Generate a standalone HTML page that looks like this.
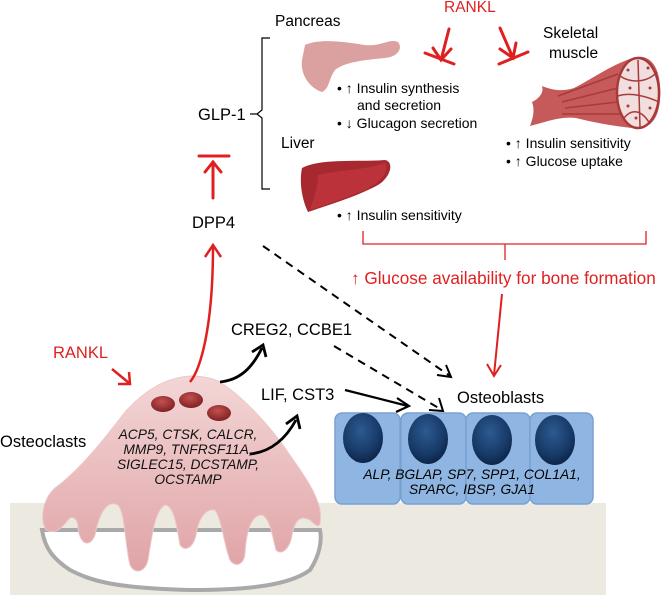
<!DOCTYPE html>
<html><head><meta charset="utf-8"><style>
html,body{margin:0;padding:0;background:#fff}
svg{display:block}
text{font-family:"Liberation Sans",sans-serif}
</style></head><body>
<svg width="662" height="598" viewBox="0 0 662 598" xmlns="http://www.w3.org/2000/svg">
<defs>
<radialGradient id="nuc" cx="45%" cy="35%" r="65%"><stop offset="0" stop-color="#2c5a90"/><stop offset="0.7" stop-color="#173a68"/><stop offset="1" stop-color="#0e2548"/></radialGradient>
<radialGradient id="red" cx="45%" cy="35%" r="70%"><stop offset="0" stop-color="#c45050"/><stop offset="1" stop-color="#7a1e1e"/></radialGradient>
<linearGradient id="pink" x1="0" y1="0" x2="0" y2="1"><stop offset="0" stop-color="#f3d6d6"/><stop offset="1" stop-color="#e0a3a6"/></linearGradient>
</defs>

<rect x="10" y="503" width="596" height="92" fill="#ece9e0"/>

<text x="444" y="12" font-size="15.5" fill="#e02020">RANKL</text>
<text x="275" y="26" font-size="15.5">Pancreas</text>
<text x="543" y="38" font-size="15.5">Skeletal</text>
<text x="549" y="58" font-size="15.5">muscle</text>

<path d="M270,38 L262,38 L262,110 L257,114 L262,118 L262,189 L270,189" fill="none" stroke="#000" stroke-width="1.2"/>
<line x1="250" y1="114" x2="257" y2="114" stroke="#000" stroke-width="1.2"/>
<text x="198" y="120" font-size="16.5">GLP-1</text>

<path d="M305,45 C320,38 345,42 365,45 C380,47 390,38 398,42 C403,48 398,57 385,58 C365,60 345,62 335,70 C328,80 330,88 322,92 C310,88 300,75 302,60 Z" fill="#dba0a0"/>
<g font-size="14">
<text x="337" y="93">• ↑ Insulin synthesis</text>
<text x="357" y="110">and secretion</text>
<text x="337" y="128">• ↓ Glucagon secretion</text>
<text x="281" y="148" font-size="15.5">Liver</text>
<text x="337" y="220">• ↑ Insulin sensitivity</text>
<text x="506" y="148">• ↑ Insulin sensitivity</text>
<text x="506" y="166">• ↑ Glucose uptake</text>
</g>
<path d="M302,168 C320,158 360,162 385,160 C395,162 390,178 378,185 C360,195 335,203 308,212 C302,200 299,182 302,168 Z" fill="#a82830"/>
<path d="M318,175 C340,170 365,170 385,163 C390,172 380,182 365,190 C345,198 325,205 310,210 C315,195 318,185 318,175 Z" fill="#c0353e" opacity="0.8"/>

<!-- muscle -->
<path d="M532,102 C540,98 544,92 542,86 C552,90 562,92 574,88 C594,78 612,64 636,57 C655,54 662,75 660,100 C658,122 648,130 632,128 C612,126 592,122 576,118 C560,116 546,122 530,126 C533,118 535,110 532,102 Z" fill="#c65a5a"/>
<ellipse cx="638" cy="93" rx="21" ry="35" fill="#f2dede" stroke="#a83a3a" stroke-width="2.5"/>
<g stroke="#a83a3a" stroke-width="1.5" fill="none">
<path d="M620,76 C632,84 648,82 657,72 M618,96 C630,92 646,96 659,102 M624,118 C632,108 642,110 650,124 M638,60 L640,127"/>
<path d="M558,96 L618,74 M562,102 L618,88 M565,108 L618,102 M562,114 L620,114"/>
</g>
<g fill="#a83a3a">
<circle cx="628" cy="70" r="1.5"/><circle cx="648" cy="68" r="1.5"/><circle cx="630" cy="88" r="1.5"/><circle cx="650" cy="88" r="1.5"/><circle cx="628" cy="106" r="1.5"/><circle cx="650" cy="108" r="1.5"/><circle cx="636" cy="118" r="1.5"/>
</g>

<g stroke="#e02020" stroke-width="3" fill="none" stroke-linecap="round">
<line x1="449" y1="29" x2="441" y2="60"/>
<path d="M433,48 L441,60 L451,49"/>
<line x1="425" y1="53" x2="454" y2="64"/>
<line x1="500" y1="28" x2="513" y2="58"/>
<path d="M500,49 L513,58 L516,43"/>
<line x1="499" y1="64" x2="528" y2="52"/>
<line x1="199" y1="156" x2="229" y2="156"/>
<line x1="213" y1="198" x2="213" y2="162"/>
<path d="M205,172 L213,162 L221,172"/>
</g>
<text x="192" y="228" font-size="16.5">DPP4</text>

<path d="M363,231 L363,244 L646,244 L646,231 M505,244 L505,260" fill="none" stroke="#e02020" stroke-width="1.3"/>
<text x="351" y="284" font-size="17.2" fill="#e02020">↑ Glucose availability for bone formation</text>
<line x1="502" y1="294" x2="494" y2="375" stroke="#e02020" stroke-width="2"/>
<path d="M487,364 L494,376 L501,365" fill="none" stroke="#e02020" stroke-width="2"/>

<g stroke="#000" stroke-width="2" stroke-dasharray="8,6" fill="none">
<line x1="263" y1="246" x2="450" y2="376"/>
<line x1="334" y1="346" x2="442" y2="410"/>
</g>
<path d="M437,375 L451,377 L446,365" fill="none" stroke="#000" stroke-width="2"/>
<path d="M429,410 L443,411 L439,398" fill="none" stroke="#000" stroke-width="2"/>

<text x="231" y="335" font-size="16.5">CREG2, CCBE1</text>
<text x="261" y="400" font-size="16.5">LIF, CST3</text>
<line x1="345" y1="390" x2="408" y2="406" stroke="#000" stroke-width="2.2"/>
<path d="M397,398 L409,406 L396,412" fill="none" stroke="#000" stroke-width="2.2"/>
<text x="457" y="403" font-size="16.5">Osteoblasts</text>

<g fill="#8fb6e2" stroke="#7aa0cf" stroke-width="1.5">
<rect x="335" y="413" width="65" height="91" rx="7"/>
<rect x="401" y="413" width="65" height="91" rx="7"/>
<rect x="466" y="413" width="64" height="91" rx="7"/>
<rect x="530" y="413" width="63" height="91" rx="7"/>
</g>
<g fill="url(#nuc)">
<ellipse cx="363" cy="438" rx="20" ry="25"/>
<ellipse cx="428" cy="439" rx="20" ry="25"/>
<ellipse cx="492" cy="440" rx="20" ry="25"/>
<ellipse cx="555" cy="440" rx="20" ry="25"/>
</g>
<g font-size="13.8" font-style="italic" text-anchor="middle">
<text x="472" y="479">ALP, BGLAP, SP7, SPP1, COL1A1,</text>
<text x="472" y="494">SPARC, IBSP, GJA1</text>
</g>

<path d="M42,530 C45,550 55,560 70,570 C90,580 110,588 190,590 C250,590 290,585 310,570 C320,555 322,540 320,530 Z" fill="#fff" stroke="#a9a9a9" stroke-width="4"/>
<path d="M190,376 C165,378 145,390 125,412 C105,438 80,470 55,488 C42,500 40,520 46,530 C55,535 62,528 68,520 C72,515 78,518 78,528 C80,545 90,548 95,535 C100,510 108,500 118,505 C125,512 125,545 130,565 C135,575 145,572 148,560 C152,535 155,510 165,505 C175,505 178,535 180,545 C185,552 193,548 196,535 C198,520 205,508 215,510 C222,520 224,545 230,560 C235,568 244,565 245,553 C246,535 250,515 262,515 C270,518 272,535 276,550 C282,556 290,548 292,535 C295,520 300,515 310,520 C318,528 322,530 320,510 C316,490 300,470 285,448 C265,420 240,395 220,382 C210,377 200,376 190,376 Z" fill="url(#pink)" stroke="#ecc7c7" stroke-width="1"/>
<ellipse cx="163" cy="404" rx="12" ry="8" fill="url(#red)"/>
<ellipse cx="191" cy="400" rx="12" ry="8" fill="url(#red)"/>
<ellipse cx="219" cy="413" rx="12" ry="8" fill="url(#red)"/>
<g font-size="13.8" font-style="italic" text-anchor="middle" fill="#111">
<text x="188" y="439">ACP5, CTSK, CALCR,</text>
<text x="188" y="454">MMP9, TNFRSF11A,</text>
<text x="188" y="469">SIGLEC15, DCSTAMP,</text>
<text x="188" y="484">OCSTAMP</text>
</g>
<text x="0" y="447" font-size="16.5">Osteoclasts</text>

<path d="M190,382 C200,370 213,330 213,246" fill="none" stroke="#e02020" stroke-width="2.5"/>
<path d="M205,257 L213,245 L221,257" fill="none" stroke="#e02020" stroke-width="2.5"/>
<text x="53" y="358" font-size="16.5" fill="#e02020">RANKL</text>
<line x1="112" y1="369" x2="129" y2="383" stroke="#e02020" stroke-width="2.5"/>
<path d="M118,384 L130,384 L129,372" fill="none" stroke="#e02020" stroke-width="2.5"/>

<path d="M220,382 C240,380 252,368 262,348" fill="none" stroke="#000" stroke-width="2.8"/>
<path d="M252,352 L263,345 L266,357" fill="none" stroke="#000" stroke-width="2.8"/>
<path d="M250,454 C270,452 285,440 296,420" fill="none" stroke="#000" stroke-width="2.8"/>
<path d="M286,424 L297,416 L300,429" fill="none" stroke="#000" stroke-width="2.8"/>
</svg>
</body></html>
